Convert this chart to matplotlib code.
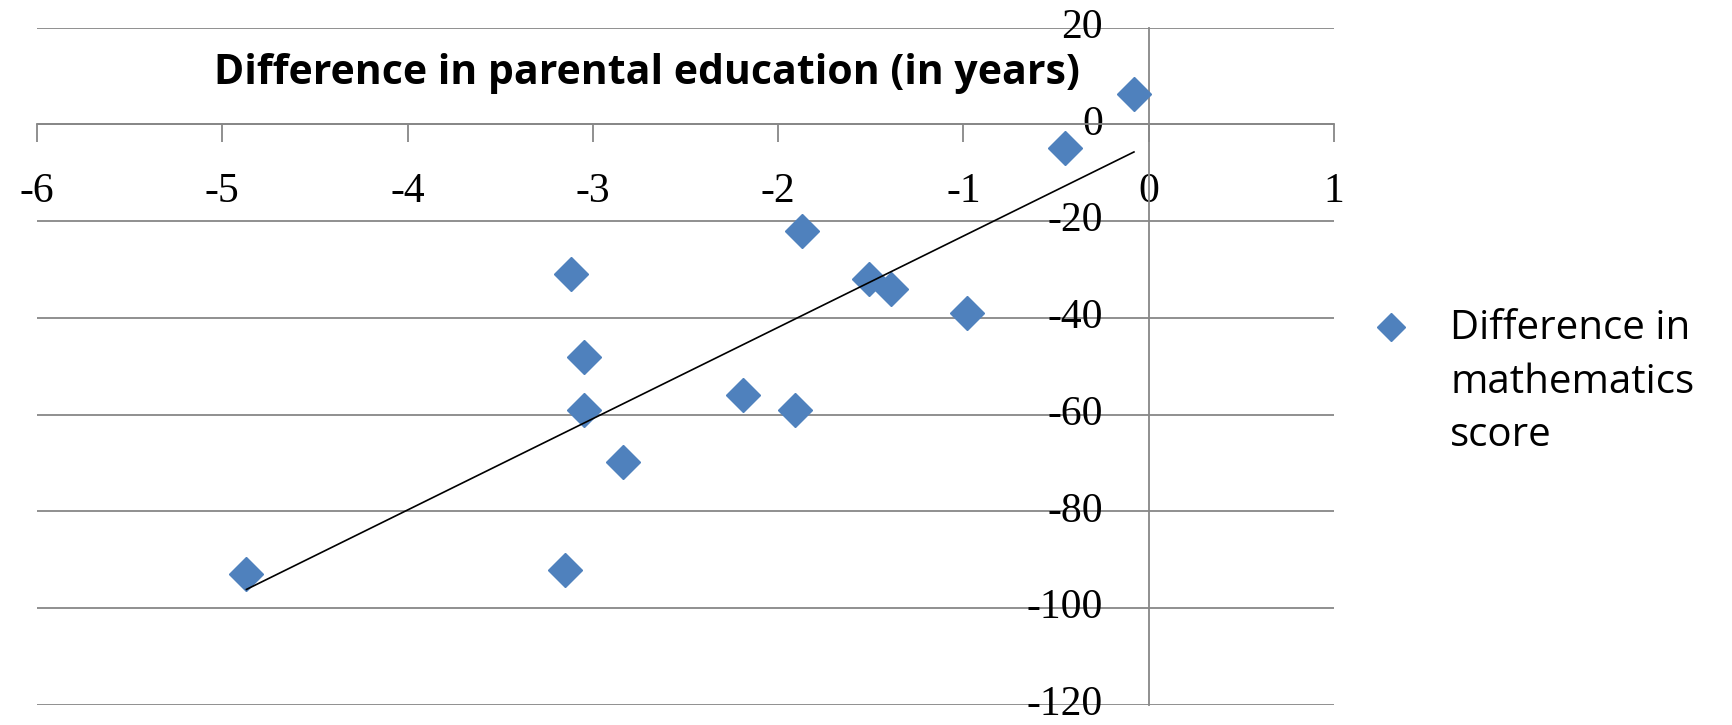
import numpy as np
import matplotlib
matplotlib.use("Agg")
import matplotlib.pyplot as plt
from matplotlib.lines import Line2D

# Difference in parental education (years) vs difference in mathematics score
edu_diff = [-4.87, -3.15, -3.12, -3.05, -3.05, -2.84, -2.19, -1.91, -1.87,
            -1.51, -1.39, -0.98, -0.45, -0.08]
math_diff = [-93.0, -92.1, -31.0, -48.1, -59.1, -69.8, -55.9, -59.1, -22.1,
             -31.9, -34.0, -39.0, -4.8, 6.2]

x_ticks = [-6, -5, -4, -3, -2, -1, 0, 1]
y_ticks = [20, 0, -20, -40, -60, -80, -100, -120]

title_text = "Difference in parental education (in years)"
legend_text = "Difference in\nmathematics\nscore"

marker_color = "#4F81BD"
grid_color = "#878787"

fig = plt.figure(figsize=(17.33, 7.25), dpi=100)
ax = fig.add_axes([0.0214, 0.0276, 0.7484, 0.9344])

ax.set_xlim(-6, 1)
ax.set_ylim(-120, 20)

# Axes crossing at the origin
for side in ("top", "right"):
    ax.spines[side].set_visible(False)
ax.spines["left"].set_position(("data", 0))
ax.spines["bottom"].set_position(("data", 0))
for side in ("left", "bottom"):
    ax.spines[side].set_color(grid_color)
    ax.spines[side].set_linewidth(1.3)

ax.set_xticks(x_ticks)
ax.set_yticks(y_ticks)
ax.set_xticklabels([str(t) for t in x_ticks])
ax.set_yticklabels([str(t) for t in y_ticks])
ax.tick_params(axis="x", direction="out", length=13, width=1.3,
               color=grid_color, pad=22)
ax.tick_params(axis="y", length=0, pad=33)
for lab in ax.get_xticklabels() + ax.get_yticklabels():
    lab.set_fontfamily("Liberation Serif")
    lab.set_fontsize(30)
    lab.set_color("black")
for lab in ax.get_yticklabels():
    lab.set_verticalalignment("center")

ax.yaxis.grid(True, color=grid_color, linewidth=1.3)
ax.set_axisbelow(True)

# Scatter points
ax.plot(edu_diff, math_diff, linestyle="none", marker="D",
        markersize=17, color=marker_color, zorder=3)

# Linear trend line over the data range
x_arr = np.array(edu_diff)
slope, intercept = np.polyfit(x_arr, np.array(math_diff), 1)
xl = np.array([x_arr.min(), x_arr.max()])
ax.plot(xl, slope * xl + intercept, color="black", linewidth=1.2, zorder=4)

# Title
fig.text(0.3733, 0.884, title_text, ha="center", va="baseline",
         fontsize=29.5, fontweight="bold", family="Open Sans")

# Legend
fig.add_artist(Line2D([0.8027], [0.549], transform=fig.transFigure,
                      marker="D", markersize=14, color=marker_color,
                      linestyle="none"))
fig.text(0.8367, 0.574, legend_text, ha="left", va="top",
         fontsize=29, family="Open Sans", linespacing=1.42)

fig.savefig("out.png", dpi=100)
